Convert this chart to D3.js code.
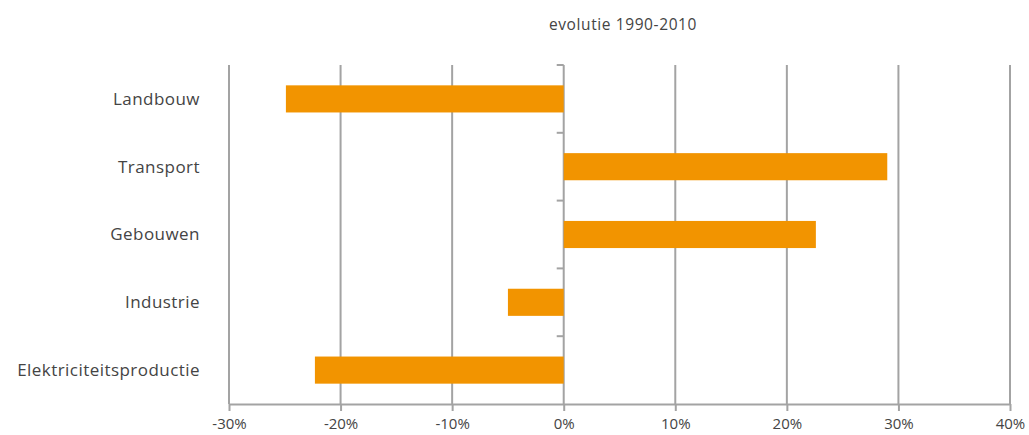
<!DOCTYPE html>
<html>
<head>
<meta charset="utf-8">
<script src="https://cdn.jsdelivr.net/npm/d3@7/dist/d3.min.js"></script>
<style>
  body { margin: 0; background: #fff; }
  svg text { font-family: "Open Sans", "Noto Sans", sans-serif; fill: #444; }
</style>
</head>
<body>
<svg id="chart" width="1029" height="435"></svg>
<script>
// Sector emissions, relative change 1990-2010
const categories = ["Landbouw", "Transport", "Gebouwen", "Industrie", "Elektriciteitsproductie"];
const values = [-24.9, 29.0, 22.6, -5.0, -22.3];
const tickValues = [-30, -20, -10, 0, 10, 20, 30, 40];
const title = "evolutie 1990-2010";

const svg = d3.select("#chart");
const margin = { left: 229, right: 19, top: 65, bottom: 31 };
const W = 1029, H = 435;

const x = d3.scaleLinear().domain([-30, 40]).range([margin.left, W - margin.right]);
const y = d3.scaleBand().domain(categories)
  .range([margin.top, H - margin.bottom])
  .paddingInner(0.6).paddingOuter(0.3);

const gridColor = "#a3a3a3";

// vertical gridlines
svg.append("g").selectAll("line").data(tickValues).join("line")
  .attr("x1", d => x(d)).attr("x2", d => x(d))
  .attr("y1", margin.top).attr("y2", H - margin.bottom)
  .attr("stroke", gridColor).attr("stroke-width", 2);

// bars
svg.append("g").selectAll("rect").data(categories).join("rect")
  .attr("x", (d, i) => x(Math.min(0, values[i])))
  .attr("width", (d, i) => Math.abs(x(values[i]) - x(0)))
  .attr("y", d => y(d))
  .attr("height", y.bandwidth())
  .attr("fill", "#f29400");

// category boundary ticks on the zero axis (top edge of each band step)
const bounds = categories.map(c => y(c) - (y.step() - y.bandwidth()) / 2);
svg.append("g").selectAll("line").data(bounds).join("line")
  .attr("x1", x(0) - 7).attr("x2", x(0))
  .attr("y1", d => d).attr("y2", d => d)
  .attr("stroke", gridColor).attr("stroke-width", 2);

// x axis
const xAxis = d3.axisBottom(x).tickValues(tickValues)
  .tickFormat(d => d + "%").tickSize(7).tickSizeOuter(0).tickPadding(7);
const gx = svg.append("g").attr("transform", `translate(0,${H - margin.bottom})`).call(xAxis);
gx.select(".domain").attr("stroke", gridColor).attr("stroke-width", 2);
gx.selectAll(".tick line").attr("stroke", gridColor).attr("stroke-width", 2);
gx.selectAll(".tick text").attr("font-size", 15).attr("fill", "#444")
  .attr("font-family", "'Open Sans', sans-serif");

// category labels
svg.append("g").selectAll("text").data(categories).join("text")
  .attr("x", 200)
  .attr("y", d => y(d) + y.bandwidth() / 2)
  .attr("dy", "0.35em")
  .attr("text-anchor", "end")
  .attr("font-size", 17)
  .attr("letter-spacing", 0.45)
  .text(d => d);

// title
svg.append("text")
  .attr("x", 623).attr("y", 30)
  .attr("text-anchor", "middle")
  .attr("font-size", 15.5)
  .attr("letter-spacing", 0.6)
  .text(title);
</script>
</body>
</html>
